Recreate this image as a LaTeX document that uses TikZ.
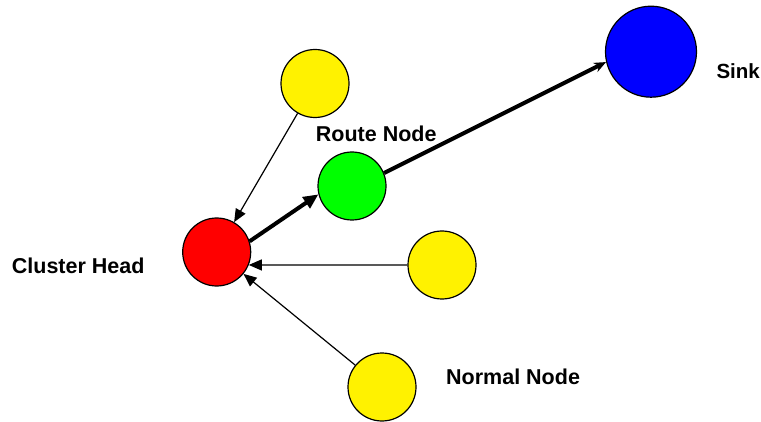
\documentclass[tikz,border=0pt]{standalone}
\usepackage{fontspec}
\setmainfont{Liberation Sans}
\usetikzlibrary{arrows.meta}

\begin{document}
\begin{tikzpicture}[x=1pt,y=1pt,
    sensor/.style={circle, draw, line width=1.2pt, minimum size=68pt, inner sep=0pt},
    lbl/.style={anchor=base west, inner sep=0pt, font=\fontsize{21.5}{24}\selectfont\bfseries},
    link/.style={line width=1.2pt, -{Triangle[length=13pt,width=11pt]}},
    hop/.style={line width=4pt, -{Triangle[length=15pt,width=13pt]}}]
  % Frame
  \useasboundingbox (0,0) rectangle (761,421);

  % Nodes
  \node[sensor, fill=yellow] (ny1) at (315,337.5) {};
  \node[sensor, fill=green]  (rn)  at (352,235) {};
  \node[sensor, fill=red]    (ch)  at (216.7,169) {};
  \node[sensor, fill=yellow] (ny2) at (442,156) {};
  \node[sensor, fill=yellow] (ny3) at (382,34) {};
  \node[sensor, fill=blue, minimum size=91pt] (sink) at (651,369.3) {};

  % Labels
  \node[lbl, anchor=base east, font=\fontsize{20.5}{24}\selectfont\bfseries] (lsink) at (760,342.7) {Sink};
  \node[lbl] (lrn)   at (315.7,279.3) {Route Node};
  \node[lbl] (lch)   at (11.7,147.7) {Cluster Head};
  \node[lbl] (lnn)   at (446,36.7) {Normal Node};

  % Arrows to the cluster head
  \draw[link] (ny1) -- (ch);
  \draw[link] (ny2.west) -- (ch.-22);
  \draw[link] (ny3) -- (ch);

  % Route to the sink
  \draw[hop] (ch.18) -- (rn.194);
  \draw[line width=4pt, -{Stealth[length=12pt,width=10pt]}] (rn.22) -- (sink.193);
\end{tikzpicture}
\end{document}
